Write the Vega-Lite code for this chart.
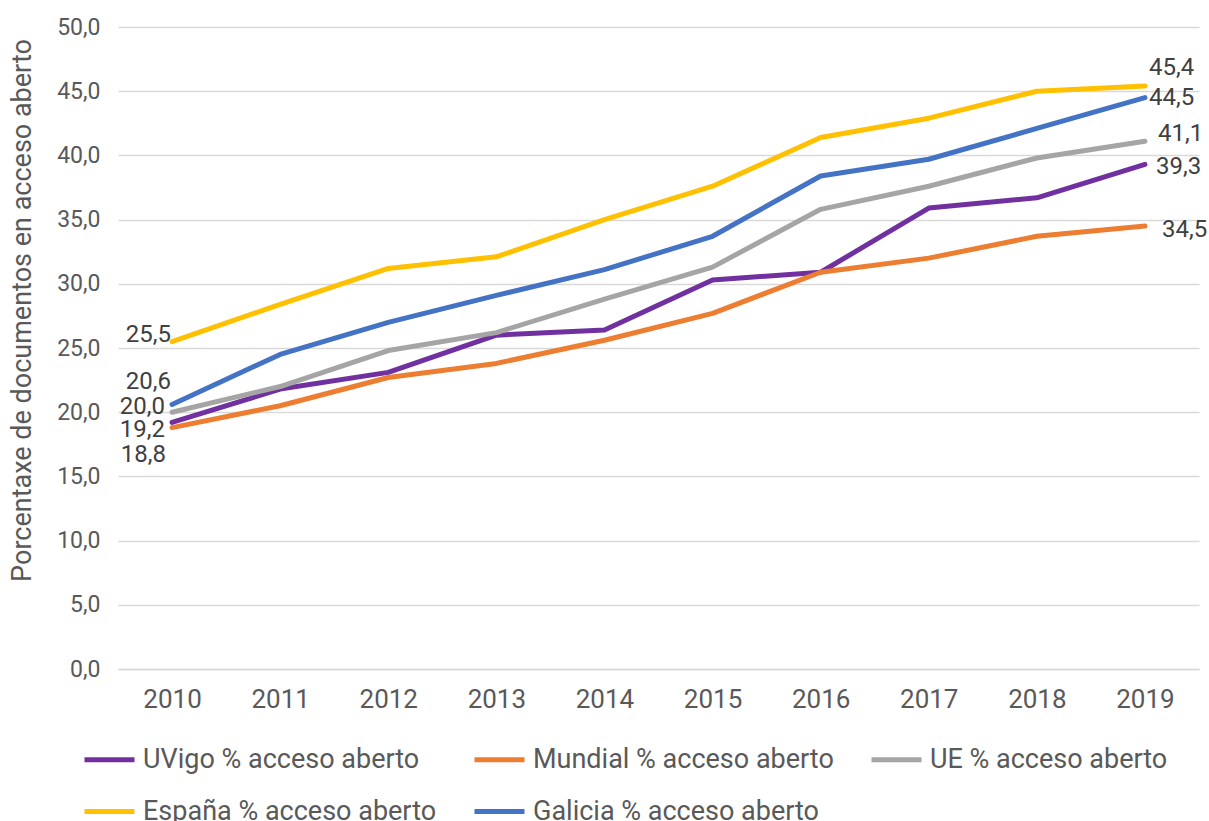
{
  "$schema": "https://vega.github.io/schema/vega-lite/v6.json",
  "width": 1081,
  "height": 642,
  "autosize": {"type": "none"},
  "padding": {"left": 118, "top": 27, "right": 10, "bottom": 152},
  "background": "white",
  "config": {
    "locale": {"number": {"decimal": ",", "thousands": ".", "grouping": [3], "currency": ["", " €"]}},
    "font": "Roboto",
    "view": {"stroke": null}
  },
  "data": {"values": [
    {"serie": "UVigo % acceso aberto", "ano": "2010", "valor": 19.2},
    {"serie": "UVigo % acceso aberto", "ano": "2011", "valor": 21.8},
    {"serie": "UVigo % acceso aberto", "ano": "2012", "valor": 23.1},
    {"serie": "UVigo % acceso aberto", "ano": "2013", "valor": 26.0},
    {"serie": "UVigo % acceso aberto", "ano": "2014", "valor": 26.4},
    {"serie": "UVigo % acceso aberto", "ano": "2015", "valor": 30.3},
    {"serie": "UVigo % acceso aberto", "ano": "2016", "valor": 30.9},
    {"serie": "UVigo % acceso aberto", "ano": "2017", "valor": 35.9},
    {"serie": "UVigo % acceso aberto", "ano": "2018", "valor": 36.7},
    {"serie": "UVigo % acceso aberto", "ano": "2019", "valor": 39.3},
    {"serie": "Mundial % acceso aberto", "ano": "2010", "valor": 18.8},
    {"serie": "Mundial % acceso aberto", "ano": "2011", "valor": 20.5},
    {"serie": "Mundial % acceso aberto", "ano": "2012", "valor": 22.7},
    {"serie": "Mundial % acceso aberto", "ano": "2013", "valor": 23.8},
    {"serie": "Mundial % acceso aberto", "ano": "2014", "valor": 25.6},
    {"serie": "Mundial % acceso aberto", "ano": "2015", "valor": 27.7},
    {"serie": "Mundial % acceso aberto", "ano": "2016", "valor": 30.9},
    {"serie": "Mundial % acceso aberto", "ano": "2017", "valor": 32.0},
    {"serie": "Mundial % acceso aberto", "ano": "2018", "valor": 33.7},
    {"serie": "Mundial % acceso aberto", "ano": "2019", "valor": 34.5},
    {"serie": "UE % acceso aberto", "ano": "2010", "valor": 20.0},
    {"serie": "UE % acceso aberto", "ano": "2011", "valor": 22.0},
    {"serie": "UE % acceso aberto", "ano": "2012", "valor": 24.8},
    {"serie": "UE % acceso aberto", "ano": "2013", "valor": 26.2},
    {"serie": "UE % acceso aberto", "ano": "2014", "valor": 28.8},
    {"serie": "UE % acceso aberto", "ano": "2015", "valor": 31.3},
    {"serie": "UE % acceso aberto", "ano": "2016", "valor": 35.8},
    {"serie": "UE % acceso aberto", "ano": "2017", "valor": 37.6},
    {"serie": "UE % acceso aberto", "ano": "2018", "valor": 39.8},
    {"serie": "UE % acceso aberto", "ano": "2019", "valor": 41.1},
    {"serie": "España % acceso aberto", "ano": "2010", "valor": 25.5},
    {"serie": "España % acceso aberto", "ano": "2011", "valor": 28.4},
    {"serie": "España % acceso aberto", "ano": "2012", "valor": 31.2},
    {"serie": "España % acceso aberto", "ano": "2013", "valor": 32.1},
    {"serie": "España % acceso aberto", "ano": "2014", "valor": 35.0},
    {"serie": "España % acceso aberto", "ano": "2015", "valor": 37.6},
    {"serie": "España % acceso aberto", "ano": "2016", "valor": 41.4},
    {"serie": "España % acceso aberto", "ano": "2017", "valor": 42.9},
    {"serie": "España % acceso aberto", "ano": "2018", "valor": 45.0},
    {"serie": "España % acceso aberto", "ano": "2019", "valor": 45.4},
    {"serie": "Galicia % acceso aberto", "ano": "2010", "valor": 20.6},
    {"serie": "Galicia % acceso aberto", "ano": "2011", "valor": 24.5},
    {"serie": "Galicia % acceso aberto", "ano": "2012", "valor": 27.0},
    {"serie": "Galicia % acceso aberto", "ano": "2013", "valor": 29.1},
    {"serie": "Galicia % acceso aberto", "ano": "2014", "valor": 31.1},
    {"serie": "Galicia % acceso aberto", "ano": "2015", "valor": 33.7},
    {"serie": "Galicia % acceso aberto", "ano": "2016", "valor": 38.4},
    {"serie": "Galicia % acceso aberto", "ano": "2017", "valor": 39.7},
    {"serie": "Galicia % acceso aberto", "ano": "2018", "valor": 42.1},
    {"serie": "Galicia % acceso aberto", "ano": "2019", "valor": 44.5}
  ]},
  "encoding": {
    "x": {
      "field": "ano", "type": "ordinal",
      "scale": {"type": "point", "padding": 0.5},
      "axis": {
        "title": null, "labelAngle": 0, "labelFontSize": 26, "labelColor": "#595959",
        "labelPadding": 17, "ticks": false, "domainColor": "#D9D9D9", "domainWidth": 1.5, "grid": false
      }
    },
    "y": {
      "field": "valor", "type": "quantitative",
      "scale": {"domain": [0, 50], "nice": false},
      "axis": {
        "values": [0, 5, 10, 15, 20, 25, 30, 35, 40, 45, 50],
        "format": ".1f", "domain": false, "ticks": false,
        "gridColor": "#D9D9D9", "gridWidth": 1.5,
        "labelFontSize": 23, "labelColor": "#595959", "labelPadding": 18,
        "title": "Porcentaxe de documentos en acceso aberto",
        "titleFontSize": 27, "titleFontWeight": "normal", "titleColor": "#595959",
        "titleX": -96, "titleY": 283, "titleAngle": -90, "titleAlign": "center", "titleBaseline": "middle"
      }
    }
  },
  "layer": [
    {
      "mark": {"type": "line", "strokeWidth": 5, "strokeCap": "round", "strokeJoin": "round"},
      "encoding": {
        "color": {
          "field": "serie", "type": "nominal",
          "sort": ["UVigo % acceso aberto", "Mundial % acceso aberto", "UE % acceso aberto", "España % acceso aberto", "Galicia % acceso aberto"],
          "scale": {
            "domain": ["UVigo % acceso aberto", "Mundial % acceso aberto", "UE % acceso aberto", "España % acceso aberto", "Galicia % acceso aberto"],
            "range": ["#7030A0", "#ED7D31", "#A5A5A5", "#FFC000", "#4472C4"]
          },
          "legend": {
            "title": null, "orient": "none", "legendX": -36, "legendY": 705, "columns": 3, "direction": "horizontal",
            "symbolType": "stroke", "symbolSize": 2500, "symbolStrokeWidth": 5,
            "labelFontSize": 27, "labelColor": "#595959", "labelOffset": 6,
            "columnPadding": 27, "rowPadding": 11, "labelLimit": 400
          }
        }
      }
    },
    {"transform": [{"filter": "datum.ano == '2010' && datum.serie == 'España % acceso aberto'"}],
     "mark": {"type": "text", "align": "right", "baseline": "middle", "dx": -1, "dy": -7, "fontSize": 24, "color": "#404040"},
     "encoding": {"text": {"field": "valor", "format": ".1f"}}},
    {"transform": [{"filter": "datum.ano == '2010' && datum.serie == 'Galicia % acceso aberto'"}],
     "mark": {"type": "text", "align": "right", "baseline": "middle", "dx": -1, "dy": -22, "fontSize": 24, "color": "#404040"},
     "encoding": {"text": {"field": "valor", "format": ".1f"}}},
    {"transform": [{"filter": "datum.ano == '2010' && datum.serie == 'UE % acceso aberto'"}],
     "mark": {"type": "text", "align": "right", "baseline": "middle", "dx": -7, "dy": -5, "fontSize": 24, "color": "#404040"},
     "encoding": {"text": {"field": "valor", "format": ".1f"}}},
    {"transform": [{"filter": "datum.ano == '2010' && datum.serie == 'UVigo % acceso aberto'"}],
     "mark": {"type": "text", "align": "right", "baseline": "middle", "dx": -7, "dy": 8, "fontSize": 24, "color": "#404040"},
     "encoding": {"text": {"field": "valor", "format": ".1f"}}},
    {"transform": [{"filter": "datum.ano == '2010' && datum.serie == 'Mundial % acceso aberto'"}],
     "mark": {"type": "text", "align": "right", "baseline": "middle", "dx": -6, "dy": 27, "fontSize": 24, "color": "#404040"},
     "encoding": {"text": {"field": "valor", "format": ".1f"}}},
    {"transform": [{"filter": "datum.ano == '2019' && datum.serie == 'España % acceso aberto'"}],
     "mark": {"type": "text", "align": "left", "baseline": "middle", "dx": 4, "dy": -18, "fontSize": 24, "color": "#404040"},
     "encoding": {"text": {"field": "valor", "format": ".1f"}}},
    {"transform": [{"filter": "datum.ano == '2019' && datum.serie == 'Galicia % acceso aberto'"}],
     "mark": {"type": "text", "align": "left", "baseline": "middle", "dx": 4, "dy": 0, "fontSize": 24, "color": "#404040"},
     "encoding": {"text": {"field": "valor", "format": ".1f"}}},
    {"transform": [{"filter": "datum.ano == '2019' && datum.serie == 'UE % acceso aberto'"}],
     "mark": {"type": "text", "align": "left", "baseline": "middle", "dx": 13, "dy": -7, "fontSize": 24, "color": "#404040"},
     "encoding": {"text": {"field": "valor", "format": ".1f"}}},
    {"transform": [{"filter": "datum.ano == '2019' && datum.serie == 'UVigo % acceso aberto'"}],
     "mark": {"type": "text", "align": "left", "baseline": "middle", "dx": 11, "dy": 3, "fontSize": 24, "color": "#404040"},
     "encoding": {"text": {"field": "valor", "format": ".1f"}}},
    {"transform": [{"filter": "datum.ano == '2019' && datum.serie == 'Mundial % acceso aberto'"}],
     "mark": {"type": "text", "align": "left", "baseline": "middle", "dx": 17, "dy": 4, "fontSize": 24, "color": "#404040"},
     "encoding": {"text": {"field": "valor", "format": ".1f"}}}
  ]
}
